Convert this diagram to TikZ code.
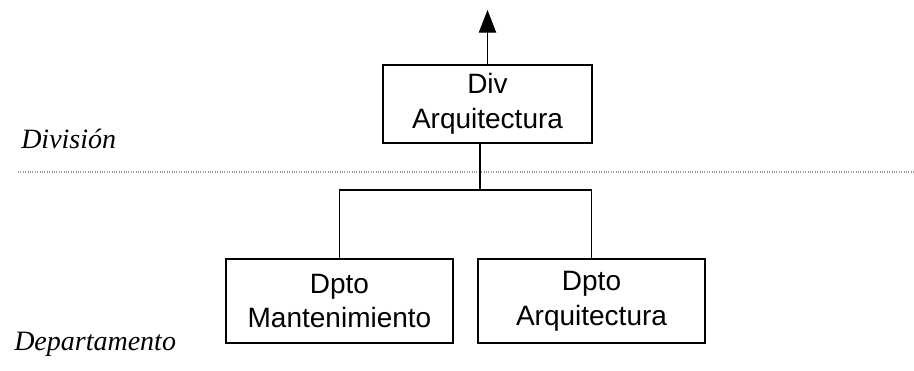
\documentclass[tikz,border=0pt]{standalone}
\usepackage{fontspec}
\setmainfont{Liberation Serif}
\newfontfamily\boxfont{Liberation Sans}
\usepackage{tikz}
\usetikzlibrary{arrows.meta, positioning}
\tikzstyle{orgunit} = [rectangle, draw, line width=0.9pt, align=center, inner sep=0pt, font=\boxfont\fontsize{21}{26}\selectfont]
\tikzstyle{level} = [anchor=base west, inner sep=0pt, font=\itshape\fontsize{21}{24}\selectfont]

\begin{document}
\begin{tikzpicture}[x=0.75pt, y=-0.75pt]
        \useasboundingbox (0, 0) rectangle (914, 371);

        % levels
        \node[level] at (21, 148) (Division) {División};
        \node[level] at (14, 350) (Departamento) {Departamento};
        \coordinate (sepL) at (18, 172);
        \coordinate (sepR) at (914, 172);
        \draw[gray!80, line width=0.8pt, densely dotted] (sepL) -- (sepR);

        % units
        \node[orgunit, minimum width=156.75pt, minimum height=58.5pt] at (487.5, 104) (DivArq) {Div\\Arquitectura};
        \node[orgunit, minimum width=170.25pt, minimum height=63pt] at (339.5, 301) (DptoMant) {Dpto\\Mantenimiento};
        \node[orgunit, minimum width=170.25pt, minimum height=63pt] at (591.5, 301) (DptoArq) {Dpto\\Arquitectura};

        % connectors
        \coordinate (up) at (487.5, 10);
        \draw[line width=0.9pt, -{Triangle[length=17pt, width=13pt]}] (DivArq.north) -- (up);

        \coordinate (stem) at (480, 190);
        \draw[line width=0.9pt] (DivArq.south -| stem) -- (stem) -| (DptoMant.north);
        \draw[line width=0.9pt] (stem) -| (DptoArq.north);
    \end{tikzpicture}
\end{document}
